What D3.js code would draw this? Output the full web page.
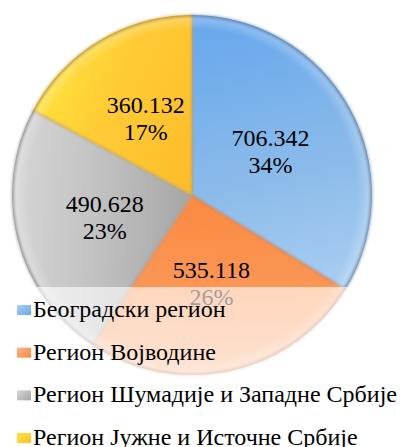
<!DOCTYPE html>
<html>
<head>
<meta charset="utf-8">
<script src="https://cdn.jsdelivr.net/npm/d3@7"></script>
<style>
  html, body { margin: 0; padding: 0; background: #ffffff; }
  svg { display: block; }
</style>
</head>
<body>
<script>
// Regions and their totals
const regions = [
  "Београдски регион",
  "Регион Војводине",
  "Регион Шумадије и Западне Србије",
  "Регион Јужне и Источне Србије"
];
const values = [706342, 535118, 490628, 360132];

// Slice colour ramps: [deep, body, light]
const palettes = [
  ["#68a8ec", "#8cbbea", "#abcff2"],
  ["#f98a42", "#fb9757", "#fcb487"],
  ["#a6a6a6", "#c3c3c3", "#d6d6d6"],
  ["#fdbe2c", "#ffcb34", "#ffe43e"]
];
const edgeColors = ["#6d96c4", "#d98a55", "#a2a2a2", "#d9a838"];

const W = 401, H = 447;
const cx = 192, cy = 195, R = 180;
const SERIF = '"Liberation Serif", "Times New Roman", serif';

const sr = d3.formatLocale({ decimal: ",", thousands: ".", grouping: [3], currency: ["", ""] });
const fmt = sr.format(",d");
const total = d3.sum(values);

const svg = d3.select("body").append("svg")
  .attr("width", W).attr("height", H);

const defs = svg.append("defs");

const pie = d3.pie().sort(null).value(d => d)(values);
const arc = d3.arc().innerRadius(0).outerRadius(R);

// Gradient directions per slice (from -> to, relative to the pie centre)
const gradDirs = [
  [[60, -R], [130, 110]],
  [[0, 0], [-10, R]],
  [[0, 0], [-R, -10]],
  [[0, -30], [-165, -100]]
];

pie.forEach((p, i) => {
  const pal = palettes[i];
  const [[x1, y1], [x2, y2]] = gradDirs[i];
  const g = defs.append("linearGradient")
    .attr("id", "grad" + i)
    .attr("gradientUnits", "userSpaceOnUse")
    .attr("x1", x1).attr("y1", y1).attr("x2", x2).attr("y2", y2);
  g.append("stop").attr("offset", 0).attr("stop-color", pal[0]);
  g.append("stop").attr("offset", 0.55).attr("stop-color", pal[1]);
  g.append("stop").attr("offset", 1).attr("stop-color", pal[2]);
});

// Soft bevel for slice edges
const blur = defs.append("filter").attr("id", "soft")
  .attr("x", "-5%").attr("y", "-5%").attr("width", "110%").attr("height", "110%");
blur.append("feGaussianBlur").attr("stdDeviation", 0.9);

// Rim shading over the whole pie
const rim = defs.append("radialGradient").attr("id", "rim")
  .attr("gradientUnits", "userSpaceOnUse")
  .attr("cx", 0).attr("cy", 0).attr("r", R);
rim.append("stop").attr("offset", 0).attr("stop-color", "#fff").attr("stop-opacity", 0);
rim.append("stop").attr("offset", 0.92).attr("stop-color", "#fff").attr("stop-opacity", 0);
rim.append("stop").attr("offset", 0.975).attr("stop-color", "#fff").attr("stop-opacity", 0.22);
rim.append("stop").attr("offset", 1).attr("stop-color", "#555").attr("stop-opacity", 0.35);

const gPie = svg.append("g").attr("transform", `translate(${cx},${cy})`);

gPie.append("g").selectAll("path")
  .data(pie)
  .join("path")
  .attr("d", arc)
  .attr("fill", (d, i) => `url(#grad${i})`);

// Shadowed boundaries between slices
gPie.append("g").attr("filter", "url(#soft)")
  .selectAll("path")
  .data(pie)
  .join("path")
  .attr("d", arc)
  .attr("fill", "none")
  .attr("stroke", (d, i) => edgeColors[i])
  .attr("stroke-width", 1.6)
  .attr("stroke-opacity", 0.75);

gPie.append("circle")
  .attr("r", R)
  .attr("fill", "url(#rim)");

// Value and share labels
const labels = gPie.append("g")
  .attr("fill", "#000")
  .attr("text-anchor", "middle");

pie.forEach(p => {
  const [lx, ly] = arc.centroid(p);
  labels.append("text").attr("x", lx).attr("y", ly - 5)
    .style("font-family", SERIF).style("font-size", "24px")
    .text(fmt(p.value));
  labels.append("text").attr("x", lx).attr("y", ly + 22)
    .style("font-family", SERIF).style("font-size", "24px")
    .text(Math.round(p.value / total * 100) + "%");
});

// Legend panel sits over the lower part of the pie
svg.append("rect")
  .attr("x", 0).attr("y", 287)
  .attr("width", W).attr("height", H - 287)
  .attr("fill", "#fff").attr("fill-opacity", 0.62);

// Legend marker gradients
palettes.forEach((pal, i) => {
  const g = defs.append("linearGradient").attr("id", "lg" + i)
    .attr("x1", 0).attr("y1", 0).attr("x2", 1).attr("y2", 1);
  g.append("stop").attr("offset", 0).attr("stop-color", pal[2]);
  g.append("stop").attr("offset", 1).attr("stop-color", pal[0]);
});

const legend = svg.append("g").attr("fill", "#000");

const rowY = d3.scalePoint().domain(regions).range([317, 445]);

regions.forEach((name, i) => {
  const y = rowY(name);
  legend.append("rect")
    .attr("x", 17).attr("y", y - 12)
    .attr("width", 14).attr("height", 10)
    .attr("fill", `url(#lg${i})`);
  legend.append("text").attr("x", 33).attr("y", y)
    .style("font-family", SERIF).style("font-size", "24px")
    .text(name);
});
</script>
</body>
</html>
